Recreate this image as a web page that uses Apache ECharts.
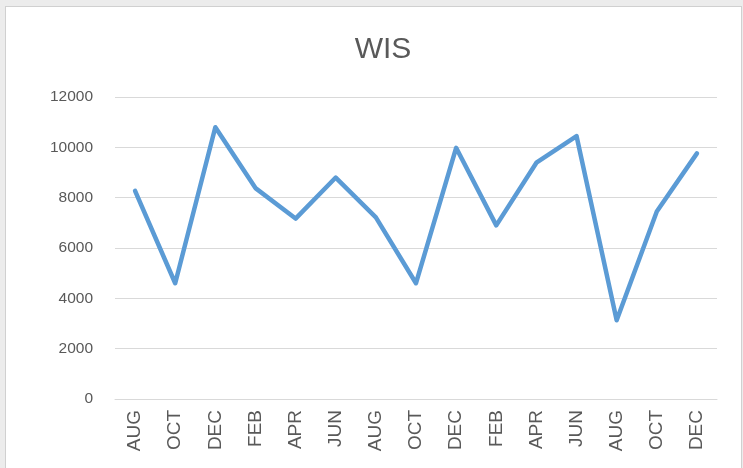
<!DOCTYPE html>
<html>
<head>
<meta charset="utf-8">
<script src="https://cdn.jsdelivr.net/npm/echarts@6/dist/echarts.min.js"></script>
<style>
html,body{margin:0;padding:0;background:#ececec;width:743px;height:468px;overflow:hidden;}
#frame{position:absolute;left:5px;top:6px;width:735px;height:470px;background:#fff;border:1px solid #d0d0d0;}
#chart{position:absolute;left:0;top:0;width:743px;height:468px;}
</style>
</head>
<body>
<div id="frame"></div>
<div id="chart"></div>
<script>
const title = "WIS";
const categories = ["AUG","OCT","DEC","FEB","APR","JUN","AUG","OCT","DEC","FEB","APR","JUN","AUG","OCT","DEC"];
const values = [8270, 4600, 10800, 8380, 7170, 8800, 7220, 4600, 9980, 6900, 9390, 10450, 3130, 7450, 9760];
const yTicks = {min: 0, max: 12000, interval: 2000};

const chart = echarts.init(document.getElementById('chart'));
const font = "'Liberation Sans', Arial, sans-serif";
chart.setOption({
  animation: false,
  title: {
    text: title, left: 378, textAlign: 'center', top: 30,
    textStyle: {fontFamily: font, fontSize: 30, fontWeight: 'normal', color: '#595959'}
  },
  grid: {left: 115, right: 26, top: 97, bottom: 69, containLabel: false},
  xAxis: {
    type: 'category', data: categories, boundaryGap: true,
    axisLine: {show: true, lineStyle: {color: '#d9d9d9', width: 1}},
    axisTick: {show: false},
    axisLabel: {rotate: 90, fontFamily: font, fontSize: 19, color: '#595959', margin: 11, interval: 0}
  },
  yAxis: {
    type: 'value', min: yTicks.min, max: yTicks.max, interval: yTicks.interval,
    axisLine: {show: false}, axisTick: {show: false},
    splitLine: {lineStyle: {color: '#d9d9d9', width: 1}},
    axisLabel: {fontFamily: font, fontSize: 15.5, color: '#595959', margin: 22,
      formatter: function (v) { return String(v); }}
  },
  series: [{
    type: 'line', data: values, showSymbol: false, symbol: 'none',
    lineStyle: {color: '#5b9bd5', width: 4.5, join: 'round', cap: 'round'},
    itemStyle: {color: '#5b9bd5'}
  }]
});
</script>
</body>
</html>
